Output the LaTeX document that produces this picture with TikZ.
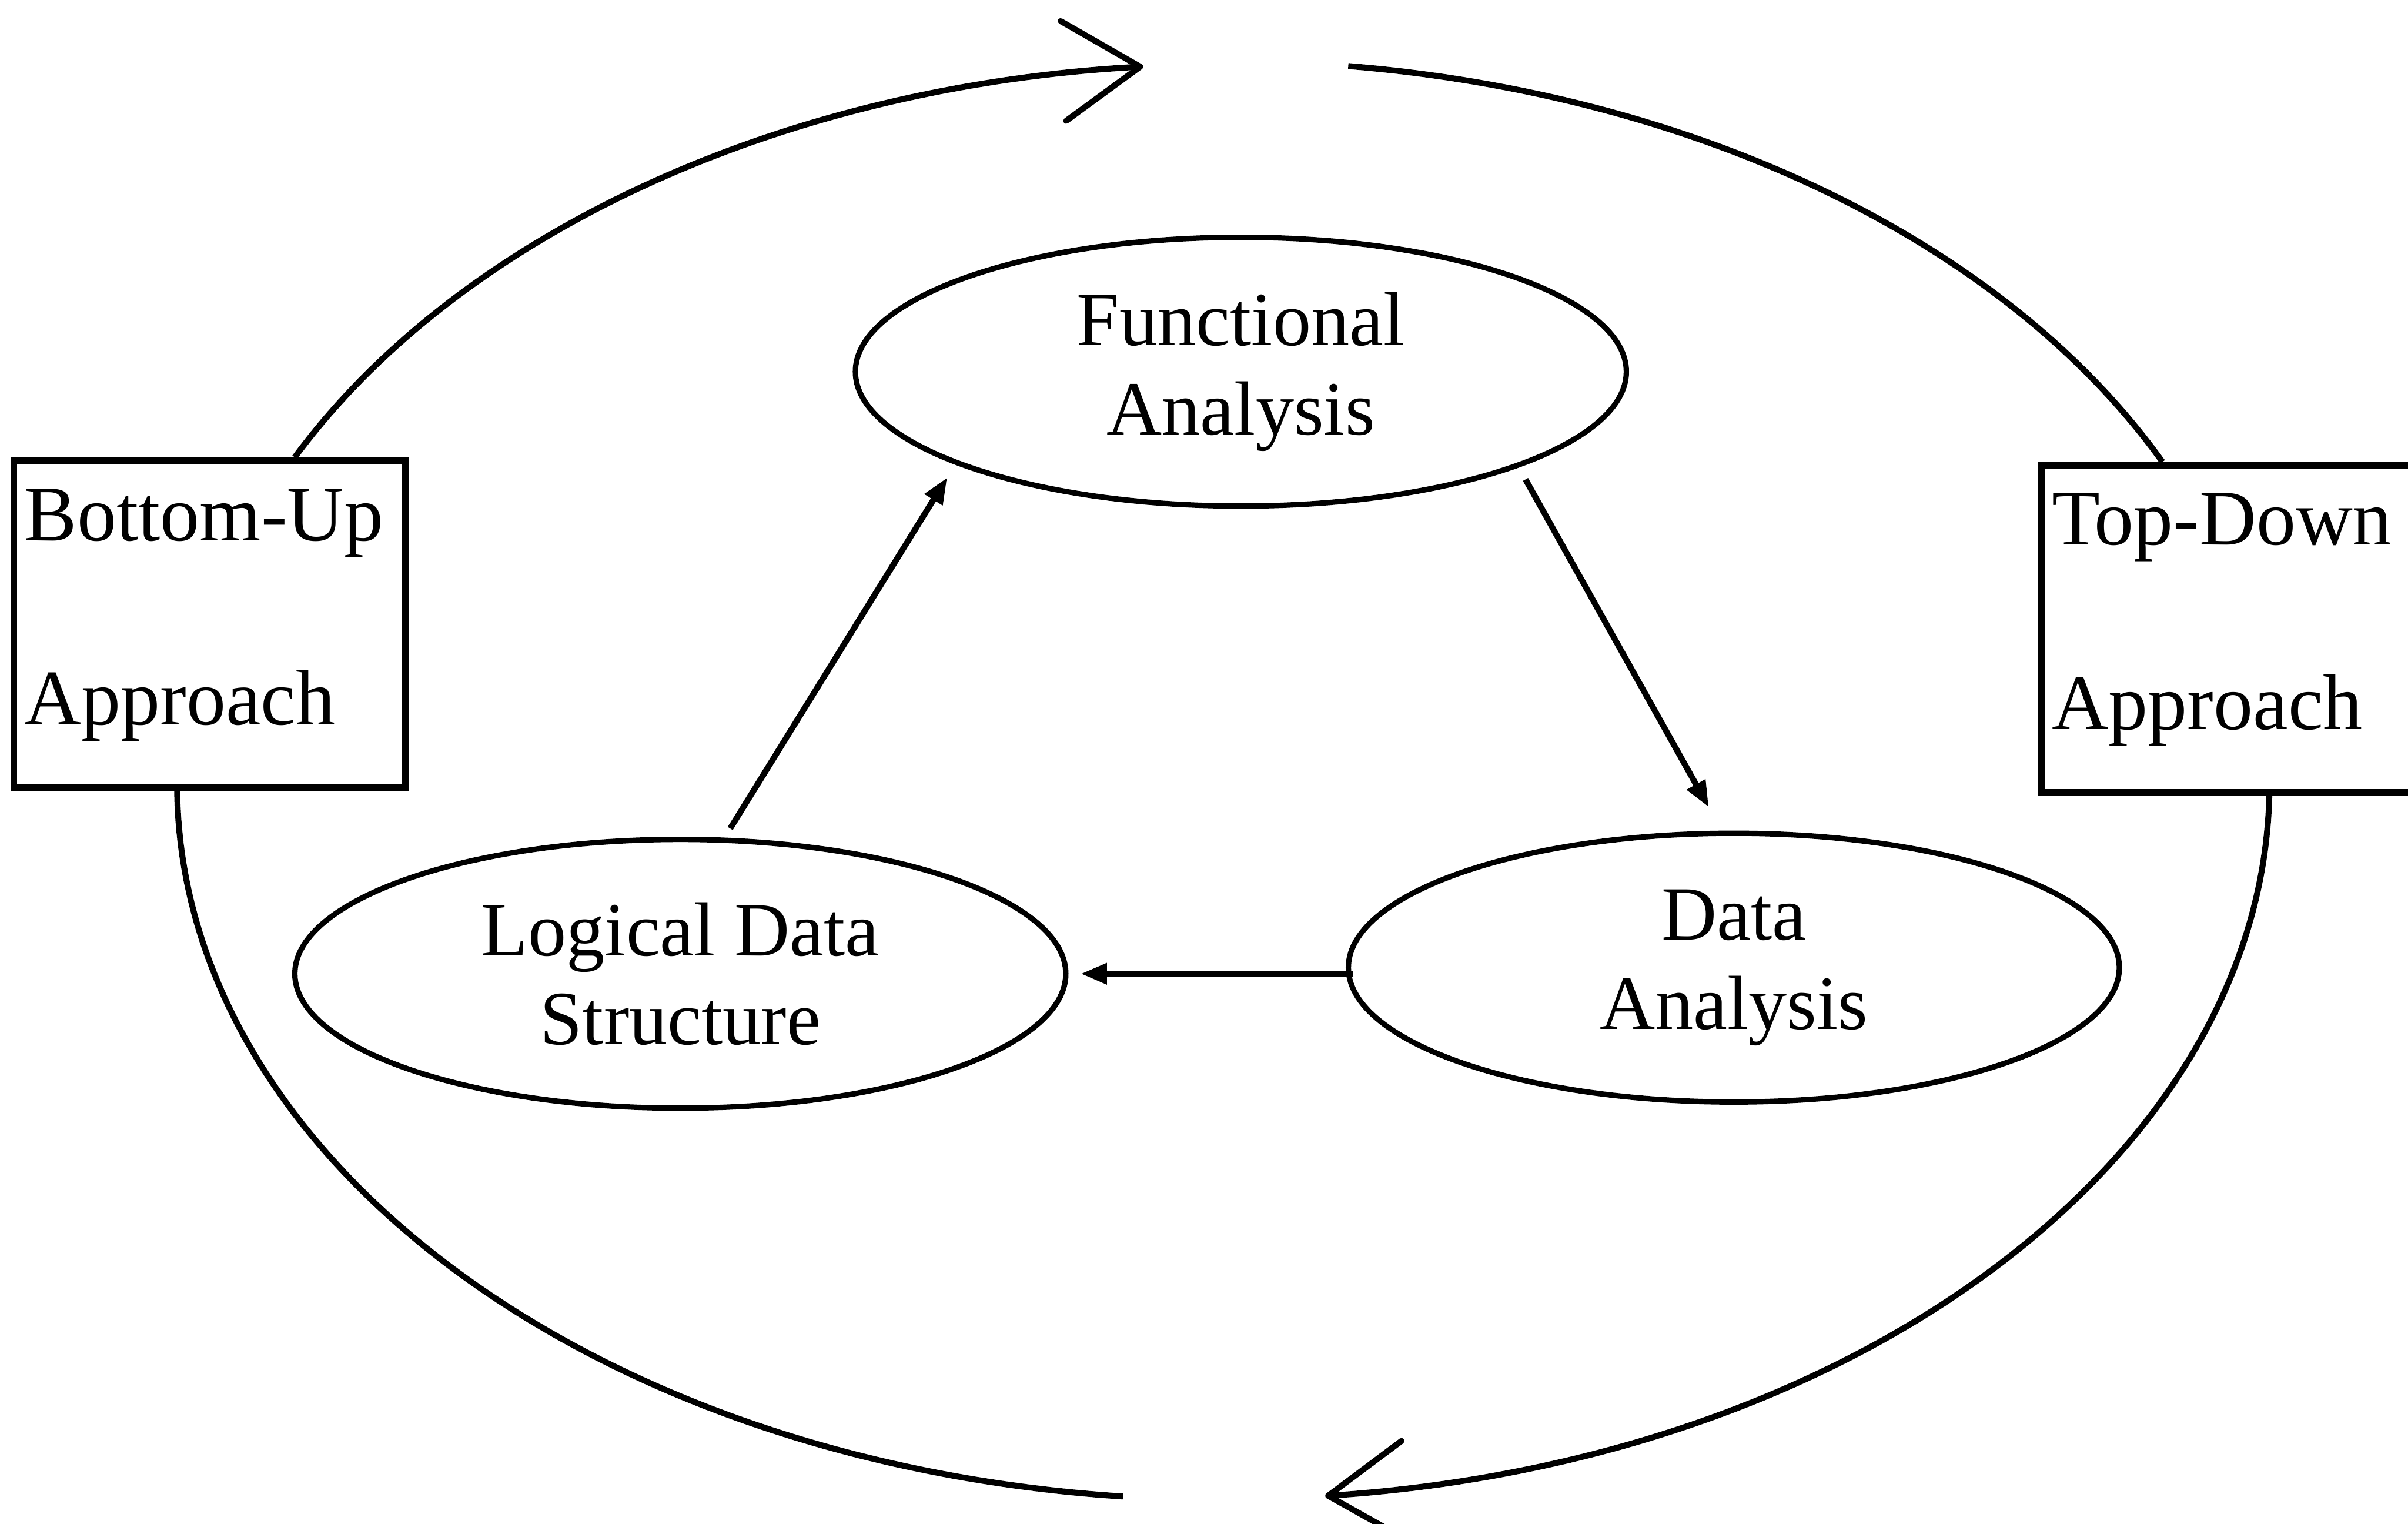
\documentclass[tikz,border=0pt]{standalone}
\usepackage{fontspec}
\setmainfont{Liberation Serif}
\usetikzlibrary{arrows.meta, shapes.geometric}

\begin{document}
\begin{tikzpicture}[line width=1.1pt,
    main/.style = {draw, ellipse, minimum width=5.02cm, minimum height=1.75cm, inner sep=0pt, align=center, line width=1pt, font=\fontsize{14.2}{16.5}\selectfont},
    side/.style = {draw, rectangle, minimum width=2.53cm, minimum height=2.13cm, text width=2.41cm, inner xsep=0.07cm, align=left, line width=1.3pt, font=\fontsize{14.6}{16.5}\selectfont},
    cycle/.style = {-{Straight Barb[length=5mm, width=6.5mm, round]}},
    flow/.style = {-{Triangle[length=1.7mm, width=1.3mm]}}]
      \useasboundingbox (0,0) rectangle (15.68,9.92);

      \node[main] (fa)  at (8.08,7.50)    {Functional\\Analysis};
      \node[main] (lds) at (4.43,3.58)    {Logical Data\\Structure};
      \node[main] (da)  at (11.29,3.62)   {Data\\Analysis};

      \node[side] (bu)  at (1.365,5.855)  {Bottom-Up\\[0.62cm]Approach\rule[-0.23cm]{0pt}{0pt}};
      \node[side] (td)  at (14.565,5.825) {Top-Down\\[0.62cm]Approach\rule[-0.23cm]{0pt}{0pt}};

      % outer cycle
      \draw[cycle] (bu.63)     arc[start angle=153.2, end angle=94.6,  x radius=6.8, y radius=4.66];
      \draw        (td.114.5)  arc[start angle=26.1,  end angle=83.2,  x radius=6.8, y radius=4.66];
      \draw[cycle] (td.-79.1)  arc[start angle=-1,    end angle=-84.5, x radius=6.8, y radius=4.66];
      \draw        (bu.259.6)  arc[start angle=180.6, end angle=264.6, x radius=6.8, y radius=4.66];

      \path[flow]
      (fa.-19.5)           edge[shorten <=0.9mm, shorten >=1.75mm]  (da.95.4)
      (da.west |- lds.east) edge[shorten <=-0.5mm, shorten >=0.8mm]  (lds.east)
      (lds.72.3)           edge[shorten <=0.7mm, shorten >=1mm]     (fa.-162.3);
\end{tikzpicture}
\end{document}
